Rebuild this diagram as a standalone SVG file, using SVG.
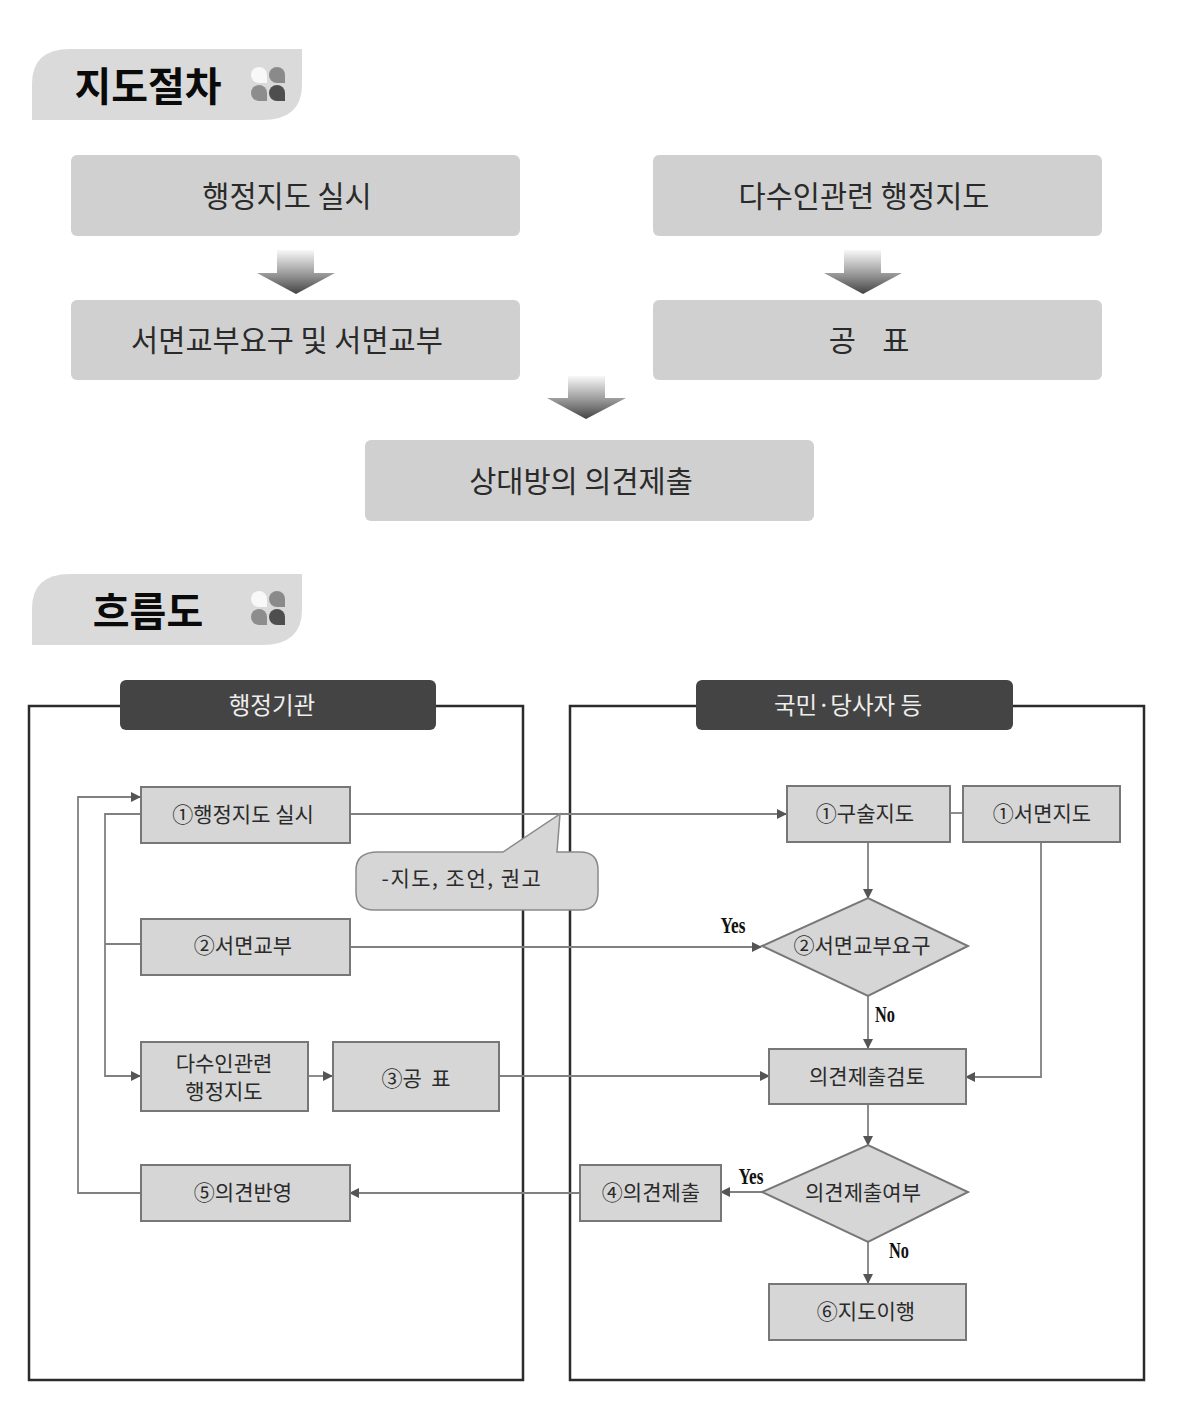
<svg xmlns="http://www.w3.org/2000/svg" width="1180" height="1420" viewBox="0 0 1180 1420">
<style>
text{font-family:"Noto Sans CJK KR","Noto Sans",sans-serif;fill:#222;text-anchor:middle;dominant-baseline:central}
.h{font-size:40px;font-weight:700;fill:#0a0a0a}
.s{font-size:29.500px;font-weight:400;fill:#2a2a2a}
.f{font-size:21px;fill:#2a2a2a}
.t{font-size:23.500px;fill:#eee}
.en{font-family:"Liberation Serif",serif;font-size:23px;font-weight:700;fill:#111}
.step{fill:#d0d0d0}
.n{fill:#d6d6d6;stroke:#777;stroke-width:2}
.frame{fill:none;stroke:#2b2b2b;stroke-width:2.5}
.c{fill:none;stroke:#808080;stroke-width:1.800}
.title{fill:#444}
</style>
<defs>
<linearGradient id="ag" x1="0" y1="0" x2="0" y2="1"><stop offset="0" stop-color="#f8f8f8"/><stop offset="0.55" stop-color="#999"/><stop offset="1" stop-color="#444"/></linearGradient>
<marker id="a" markerWidth="10" markerHeight="10" refX="9" refY="5" orient="auto" markerUnits="userSpaceOnUse"><path d="M0,0L10,5L0,10z" fill="#555"/></marker>
<path id="drop" d="M8,8H0A8,8 0 1 1 8,0Z"/>
<g id="dots">
<use href="#drop" x="0" y="0" fill="#f8f8f8"/>
<use href="#drop" x="18" y="0" fill="#8a8a8a"/>
<use href="#drop" x="0" y="18" fill="#8d8d8d"/>
<use href="#drop" x="18" y="18" fill="#4e4e4e"/>
</g>
</defs>
<rect width="1180" height="1420" fill="#fff"/>

<g id="head1"><path d="M32,120V84Q32,49 70,49H302V85Q302,120 262,120Z" fill="#dadada"/><text class="h" x="148" y="84">지도절차</text><use href="#dots" x="259" y="75"/></g>
<g id="head2"><path d="M32,645V609Q32,574 70,574H302V610Q302,645 262,645Z" fill="#dadada"/><text class="h" x="148" y="609">흐름도</text><use href="#dots" x="259" y="599"/></g>

<g id="step1"><rect class="step" x="71" y="155" width="449" height="81" rx="6"/><text class="s" x="287" y="194">행정지도 실시</text></g>
<g id="step2"><rect class="step" x="653" y="155" width="449" height="81" rx="6"/><text class="s" x="864" y="194">다수인관련 행정지도</text></g>
<g id="step3"><rect class="step" x="71" y="300" width="449" height="80" rx="6"/><text class="s" x="287" y="338">서면교부요구 및 서면교부</text></g>
<g id="step4"><rect class="step" x="653" y="300" width="449" height="80" rx="6"/><text class="s" x="869" y="338" xml:space="preserve">공    표</text></g>
<g id="step5"><rect class="step" x="365" y="440" width="449" height="81" rx="6"/><text class="s" x="581" y="479">상대방의 의견제출</text></g>

<g id="block-arrows" fill="url(#ag)">
<path d="M277,250H314V273H335L296,294L257,273H277Z"/>
<path d="M844,250H881V273H902L863,294L824,273H844Z"/>
<path d="M568,376H605V398H626L586,419L547,398H568Z"/>
</g>

<g id="frames">
<path class="frame" d="M120,706H29V1380H523V706H436"/>
<path class="frame" d="M696,706H570V1380H1144V706H1013"/>
</g>

<g id="connectors">
<path class="c" d="M350,814H786" marker-end="url(#a)"/>
<path class="c" d="M350,947H761" marker-end="url(#a)"/>
<path class="c" d="M499,1076H769" marker-end="url(#a)"/>
<path class="c" d="M308,1076H332" marker-end="url(#a)"/>
<path class="c" d="M140,1193H78V797H140" marker-end="url(#a)"/>
<path class="c" d="M140,814H105V1076H140" marker-end="url(#a)"/>
<path class="c" d="M105,944H140"/>
<path class="c" d="M950,813H963"/>
<path class="c" d="M868,842V898" marker-end="url(#a)"/>
<path class="c" d="M868,996V1048" marker-end="url(#a)"/>
<path class="c" d="M1041,842V1077H966" marker-end="url(#a)"/>
<path class="c" d="M868,1105V1145" marker-end="url(#a)"/>
<path class="c" d="M762,1192H721" marker-end="url(#a)"/>
<path class="c" d="M580,1193H350" marker-end="url(#a)"/>
<path class="c" d="M868,1242V1283" marker-end="url(#a)"/>
</g>

<g id="title-left"><rect class="title" x="120" y="680" width="316" height="50" rx="6"/><text class="t" x="272" y="704">행정기관</text></g>
<g id="title-right"><rect class="title" x="696" y="680" width="317" height="50" rx="6"/><text class="t" x="848" y="704">국민·당사자 등</text></g>

<g id="n1"><rect class="n" x="141" y="787" width="209" height="56"/><text class="f" x="243" y="813">①행정지도 실시</text></g>
<g id="n2"><rect class="n" x="141" y="919" width="209" height="56"/><text class="f" x="243" y="944">②서면교부</text></g>
<g id="n3"><rect class="n" x="141" y="1042" width="167" height="69"/><text class="f" x="224" y="1062">다수인관련</text><text class="f" x="224" y="1090">행정지도</text></g>
<g id="n4"><rect class="n" x="333" y="1042" width="166" height="69"/><text class="f" x="416" y="1077" xml:space="preserve">③공  표</text></g>
<g id="n5"><rect class="n" x="141" y="1165" width="209" height="56"/><text class="f" x="243" y="1191">⑤의견반영</text></g>
<g id="n6"><rect class="n" x="787" y="786" width="163" height="56"/><text class="f" x="865" y="812">①구술지도</text></g>
<g id="n7"><rect class="n" x="963" y="786" width="157" height="56"/><text class="f" x="1042" y="812">①서면지도</text></g>
<g id="n8"><path class="n" d="M762,946L868,898L968,946L868,996Z"/><text class="f" x="862" y="944">②서면교부요구</text></g>
<g id="n9"><rect class="n" x="769" y="1049" width="197" height="55"/><text class="f" x="867" y="1075">의견제출검토</text></g>
<g id="n10"><path class="n" d="M762,1192L868,1145L968,1192L868,1242Z"/><text class="f" x="863" y="1191">의견제출여부</text></g>
<g id="n11"><rect class="n" x="580" y="1165" width="141" height="56"/><text class="f" x="651" y="1191">④의견제출</text></g>
<g id="n12"><rect class="n" x="769" y="1284" width="197" height="56"/><text class="f" x="866" y="1310">⑥지도이행</text></g>

<g id="callout"><path d="M378,852H503L560,814L557,852H580Q598,852 598,870V892Q598,910 580,910H374Q356,910 356,892V870Q356,852 378,852Z" fill="#d6d6d6" stroke="#8a8a8a" stroke-width="1.500"/><text class="f" x="462" y="877" letter-spacing="1.500">-지도, 조언, 권고</text></g>

<g id="labels">
<text class="en" x="733" y="925" textLength="25" lengthAdjust="spacingAndGlyphs">Yes</text>
<text class="en" x="885" y="1014" textLength="20" lengthAdjust="spacingAndGlyphs">No</text>
<text class="en" x="751" y="1176" textLength="25" lengthAdjust="spacingAndGlyphs">Yes</text>
<text class="en" x="899" y="1250" textLength="20" lengthAdjust="spacingAndGlyphs">No</text>
</g>
</svg>
